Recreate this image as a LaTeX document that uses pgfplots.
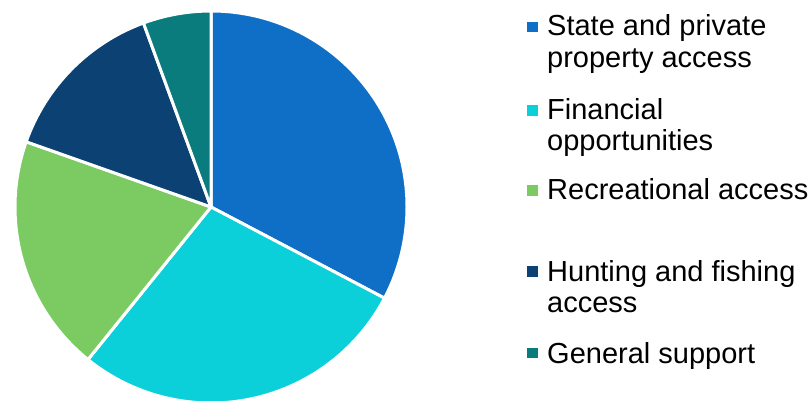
\documentclass[border=0pt]{standalone}
\usepackage{pgfplots}
\usepackage{pgfplotstable}
\pgfplotsset{compat=1.18}
\usepackage{fontspec}
\setmainfont{Liberation Sans}
\definecolor{c1}{HTML}{0F6FC6}
\definecolor{c2}{HTML}{0BD0D9}
\definecolor{c3}{HTML}{7CCA62}
\definecolor{c4}{HTML}{0B4173}
\definecolor{c5}{HTML}{0A7C7E}
\pgfplotstableread{
value colour
32.7 c1
28.1 c2
19.6 c3
14.0 c4
5.6 c5
}\piedata
\begin{document}
\begin{tikzpicture}[x=1pt,y=1pt]
\useasboundingbox (0,0) rectangle (811,401);
\begin{axis}[
  hide axis, scale only axis, width=392pt, height=392pt,
  xmin=-1, xmax=1, ymin=-1, ymax=1,
  at={(211pt,194pt)}, anchor=center, clip=false]
\def\cum{90}
\pgfplotsforeachungrouped \i in {0,...,4} {%
  \pgfplotstablegetelem{\i}{value}\of\piedata \let\v\pgfplotsretval
  \pgfplotstablegetelem{\i}{colour}\of\piedata \let\c\pgfplotsretval
  \pgfmathsetmacro\endang{\cum-3.6*\v}%
  \edef\cmd{\noexpand\fill[\c, draw=white, line width=3pt, line join=round]
    (axis cs:0,0) -- (axis cs:{cos(\cum)},{sin(\cum)})
    arc[start angle=\cum, end angle=\endang, radius=196pt] -- cycle;}%
  \cmd
  \global\let\cum\endang
}
\end{axis}
\fontsize{29}{31}\selectfont
\def\legsq#1#2{\fill[#1] (527,401-#2-5.2) rectangle (537.5,401-#2+5.2);}
\legsq{c1}{27}
\legsq{c2}{110.5}
\legsq{c3}{190.5}
\legsq{c4}{271.5}
\legsq{c5}{353}
\def\legtxt#1#2{\node[anchor=base west, inner sep=0pt] at (547,401-#1) {#2};}
\legtxt{36}{State and private}
\legtxt{68}{property access}
\legtxt{120}{Financial}
\legtxt{151}{opportunities}
\legtxt{200}{Recreational access}
\legtxt{282}{Hunting and fishing}
\legtxt{313}{access}
\legtxt{364}{General support}
\end{tikzpicture}
\end{document}
